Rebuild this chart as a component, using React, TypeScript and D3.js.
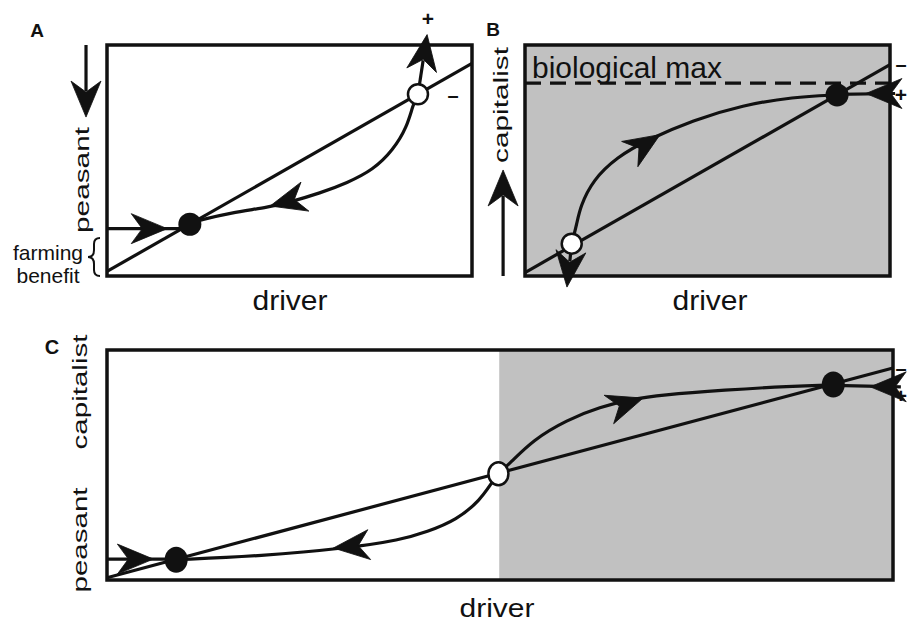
import * as d3 from 'd3';

type Pt = [number, number];
type Arrow = { from: Pt; to: Pt; shaft?: boolean };

const FONT = '"Liberation Sans", Arial, Helvetica, sans-serif';
const INK = '#111';
const SHADE = '#c1c1c1';

// every panel uses the same units: driver 0..100 (x), state 0..100 (y)

// panel A: peasant system
const aNullcline: Pt[] = [[0, 2], [100, 92]];
const aReturn: Pt[] = [[85.2, 78.8], [83.8, 74.0], [82.2, 64.5], [78.4, 54.5], [72.9, 45.9], [65.8, 40.3], [58.4, 35.9], [50.1, 32.0], [44.7, 29.9], [33.7, 27.3], [25.5, 24.2], [22.7, 22.9]];
const aInflow: Pt[] = [[0, 20.5], [22.7, 20.5]];
const aStable: Pt[] = [[22.7, 22.4]];
const aUnstable: Pt[] = [[85.2, 78.7]];
const aArrows: Arrow[] = [
  { from: [5.5, 20.5], to: [16.5, 20.5] },
  { from: [52.9, 33.8], to: [44.7, 30.3] },
  { from: [85.2, 78.7], to: [87.7, 104.5], shaft: true },
  { from: [-5.75, 100], to: [-5.75, 68.8], shaft: true },
];

// panel B: capitalist system
const bNullcline: Pt[] = [[0, 1.5], [100, 91.5]];
const bRise: Pt[] = [[12.8, 14], [14.2, 22.5], [15.1, 29.9], [18.6, 41.6], [25.2, 51.5], [33.4, 58.9], [46.0, 67.5], [59.7, 74.0], [73.4, 77.5], [85.5, 78.4]];
const bInflow: Pt[] = [[85.5, 78.6], [101.4, 79]];
const bMax = 83.5;
const bStable: Pt[] = [[85.5, 78.4]];
const bUnstable: Pt[] = [[12.8, 14]];
const bArrows: Arrow[] = [
  { from: [29.6, 53.7], to: [37.0, 61.2] },
  { from: [101.6, 79], to: [93.4, 79] },
  { from: [12.8, 14], to: [11.5, -4.8], shaft: true },
  { from: [-6, 0], to: [-6, 45.9], shaft: true },
];

// panel C: combined system, capitalist regime shaded from the threshold on
const cThreshold = 49.9;
const cNullcline: Pt[] = [[0, 1], [100, 92.2]];
const cRise: Pt[] = [[49.8, 46.2], [51.3, 50.9], [54.2, 60.9], [58.5, 69.6], [62.7, 75.2], [66.9, 78.7], [70.4, 80.4], [78.6, 82.6], [86.9, 84.3], [92.4, 84.8]];
const cFall: Pt[] = [[49.8, 46.2], [49.0, 42.6], [47.5, 34.8], [44.5, 26.1], [40.7, 20.9], [37.3, 17.4], [30.7, 13.9], [19.6, 10.4], [8.8, 8.8]];
const cInflowLeft: Pt[] = [[0, 9.1], [8.8, 9.1]];
const cInflowRight: Pt[] = [[92.4, 84.6], [101, 84]];
const cStable: Pt[] = [[8.8, 8.8], [92.4, 85]];
const cUnstable: Pt[] = [[49.8, 46.2]];
const cArrows: Arrow[] = [
  { from: [1.2, 9.1], to: [5.9, 9.1] },
  { from: [32.8, 15.2], to: [28.8, 13.9] },
  { from: [64.0, 74.3], to: [68.2, 79.1] },
  { from: [101, 84], to: [97.1, 84] },
];

const HEAD = 'M0,0 L-36,-15 L-25,0 L-36,15 Z';

interface Box { left: number; right: number; top: number; bottom: number }

interface PanelProps {
  box: Box;
  shadeFrom?: number;
  dashedAt?: number;
  lines: Pt[][];
  curves: Pt[][];
  arrows: Arrow[];
  stable: Pt[];
  unstable: Pt[];
  ry?: number;
}

const Panel = ({ box, shadeFrom, dashedAt, lines, curves, arrows, stable, unstable, ry = 11 }: PanelProps) => {
  const x = d3.scaleLinear().domain([0, 100]).range([box.left, box.right]);
  const y = d3.scaleLinear().domain([0, 100]).range([box.bottom, box.top]);
  const straight = d3.line<Pt>().x(d => x(d[0])).y(d => y(d[1]));
  const smooth = d3.line<Pt>().x(d => x(d[0])).y(d => y(d[1])).curve(d3.curveBasis);

  return (
    <g>
      <rect x={box.left} y={box.top} width={box.right - box.left} height={box.bottom - box.top} fill="#fff" />
      {shadeFrom !== undefined && (
        <rect x={x(shadeFrom)} y={box.top} width={x(100) - x(shadeFrom)} height={box.bottom - box.top} fill={SHADE} />
      )}
      {dashedAt !== undefined && (
        <line x1={x(0)} x2={x(100)} y1={y(dashedAt)} y2={y(dashedAt)} stroke={INK} strokeWidth={3.2} strokeDasharray="16,9" />
      )}
      {lines.map((l, i) => (
        <path key={'l' + i} d={straight(l) || ''} fill="none" stroke={INK} strokeWidth={3.2} />
      ))}
      {curves.map((c, i) => (
        <path key={'c' + i} d={smooth(c) || ''} fill="none" stroke={INK} strokeWidth={3.2} />
      ))}
      <rect x={box.left} y={box.top} width={box.right - box.left} height={box.bottom - box.top} fill="none" stroke={INK} strokeWidth={3.5} />
      {arrows.map((a, i) => {
        const x0 = x(a.from[0]), y0 = y(a.from[1]), x1 = x(a.to[0]), y1 = y(a.to[1]);
        const ang = Math.atan2(y1 - y0, x1 - x0);
        const deg = (ang * 180) / Math.PI;
        return (
          <g key={'a' + i}>
            {a.shaft && (
              <line x1={x0} y1={y0} x2={x1 - 26 * Math.cos(ang)} y2={y1 - 26 * Math.sin(ang)} stroke={INK} strokeWidth={3.2} />
            )}
            <path d={HEAD} transform={`translate(${x1},${y1}) rotate(${deg})`} fill={INK} stroke={INK} strokeWidth={0.8} strokeLinejoin="round" />
          </g>
        );
      })}
      {stable.map((p, i) => (
        <ellipse key={'s' + i} cx={x(p[0])} cy={y(p[1])} rx={11.5} ry={ry + 0.5} fill={INK} />
      ))}
      {unstable.map((p, i) => (
        <ellipse key={'u' + i} cx={x(p[0])} cy={y(p[1])} rx={10} ry={ry - 1} fill="#fff" stroke={INK} strokeWidth={2.5} />
      ))}
    </g>
  );
};

const boxA: Box = { left: 107, right: 472, top: 45, bottom: 276 };
const boxB: Box = { left: 525, right: 890, top: 45, bottom: 276 };
const boxC: Box = { left: 107, right: 893, top: 350, bottom: 580 };

const Side = ({ x, cy, len, text }: { x: number; cy: number; len: number; text: string }) => (
  <text transform={`translate(${x},${cy}) rotate(-90)`} textAnchor="middle" fontSize={21}
    textLength={len} lengthAdjust="spacingAndGlyphs" fill={INK}>{text}</text>
);

const Sign = ({ x, y, s }: { x: number; y: number; s: string }) => (
  <text x={x} y={y} textAnchor="middle" dominantBaseline="central" fontSize={s === '+' ? 21 : 20}
    fontWeight="bold" fill={INK}>{s === '+' ? '+' : '–'}</text>
);

export default function App() {
  const ya = d3.scaleLinear().domain([0, 100]).range([boxA.bottom, boxA.top]);
  const braceTop = ya(16.5), braceBot = ya(0), bx = 100;
  const mid = (braceTop + braceBot) / 2;
  const brace = `M${bx},${braceTop} q-6,0 -6,6 V${mid - 7} q0,7 -6,7 q6,0 6,7 V${braceBot - 6} q0,6 6,6`;

  return (
    <svg width={909} height={622} style={{ position: 'absolute', left: 0, top: 0, background: '#fff' }}
      fontFamily={FONT}>
      <Panel box={boxA} lines={[aNullcline, aInflow]} curves={[aReturn]} arrows={aArrows}
        stable={aStable} unstable={aUnstable} />
      <Panel box={boxB} shadeFrom={0} dashedAt={bMax} lines={[bNullcline, bInflow]} curves={[bRise]}
        arrows={bArrows} stable={bStable} unstable={bUnstable} />
      <Panel box={boxC} shadeFrom={cThreshold} lines={[cNullcline, cInflowLeft, cInflowRight]}
        curves={[cRise, cFall]} arrows={cArrows} stable={cStable} unstable={cUnstable} ry={12.5} />

      <text x={37} y={37} textAnchor="middle" fontSize={19} fontWeight="bold" fill={INK}>A</text>
      <text x={493} y={36} textAnchor="middle" fontSize={19} fontWeight="bold" fill={INK}>B</text>
      <text x={52} y={354} textAnchor="middle" fontSize={20} fontWeight="bold" fill={INK}>C</text>

      <Side x={89} cy={180} len={106} text="peasant" />
      <Side x={508} cy={105} len={116} text="capitalist" />
      <Side x={87} cy={392} len={115} text="capitalist" />
      <Side x={87} cy={540} len={105} text="peasant" />

      <text x={290} y={310} textAnchor="middle" fontSize={28} textLength={75} lengthAdjust="spacingAndGlyphs" fill={INK}>driver</text>
      <text x={710} y={310} textAnchor="middle" fontSize={28} textLength={75} lengthAdjust="spacingAndGlyphs" fill={INK}>driver</text>
      <text x={497} y={617} textAnchor="middle" fontSize={25} textLength={75} lengthAdjust="spacingAndGlyphs" fill={INK}>driver</text>

      <text x={532} y={78} fontSize={29} textLength={190} lengthAdjust="spacingAndGlyphs" fill={INK}>biological max</text>

      <text x={48} y={260} textAnchor="middle" fontSize={21} fill={INK}>farming</text>
      <text x={48} y={283} textAnchor="middle" fontSize={21} fill={INK}>benefit</text>
      <path d={brace} fill="none" stroke={INK} strokeWidth={2} />

      <Sign x={428} y={18} s="+" />
      <Sign x={453} y={95} s="-" />
      <Sign x={901} y={64} s="-" />
      <Sign x={901} y={94} s="+" />
      <Sign x={901} y={368} s="-" />
      <Sign x={901} y={395} s="+" />
    </svg>
  );
}
